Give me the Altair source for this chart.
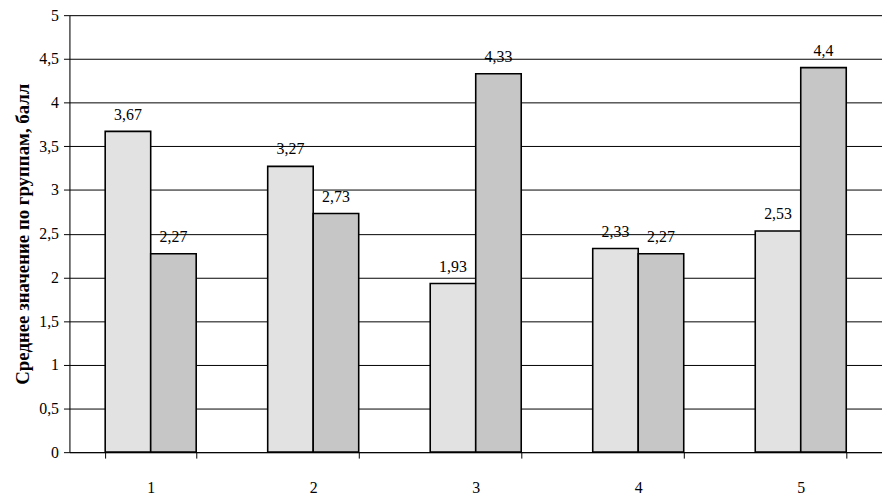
import altair as alt
import pandas as pd

groups = ["1", "2", "3", "4", "5"]
series_a = [3.67, 3.27, 1.93, 2.33, 2.53]
series_b = [2.27, 2.73, 4.33, 2.27, 4.4]
series_names = ["A", "B"]
y_ticks = [0, 0.5, 1, 1.5, 2, 2.5, 3, 3.5, 4, 4.5, 5]

rows = []
for g, a, b in zip(groups, series_a, series_b):
    rows.append({"group": g, "series": series_names[0], "value": a})
    rows.append({"group": g, "series": series_names[1], "value": b})
df = pd.DataFrame(rows)

FONT = "Liberation Serif"

base = alt.Chart(df).encode(
    x=alt.X("group:N", sort=groups,
            scale=alt.Scale(paddingInner=0.44, paddingOuter=0.22),
            axis=alt.Axis(title=None, labelAngle=0, tickBand="extent", tickSize=6,
                          labelPadding=22, labelFontSize=16, labelFont=FONT,
                          labelColor="black", domainColor="black", tickColor="black",
                          labelBaseline="top",
                          domainWidth=1, tickWidth=1, grid=False)),
    xOffset=alt.XOffset("series:N", sort=series_names, scale=alt.Scale(paddingInner=0, paddingOuter=0)),
    y=alt.Y("value:Q", scale=alt.Scale(domain=[0, 5], nice=False),
            axis=alt.Axis(title="Среднее значение по группам, балл", values=y_ticks,
                          labelExpr="replace(format(datum.value, '~g'), '.', ',')",
                          labelFontSize=16, labelFont=FONT, labelColor="black",
                          titleFont=FONT, titleFontSize=19, titleFontWeight="bold",
                          titleColor="black", titlePadding=6,
                          tickSize=6, tickColor="black", domainColor="black",
                          gridColor="black", gridWidth=1, gridOpacity=1,
                          labelPadding=5)),
)

bars = base.mark_bar(stroke="black", strokeWidth=1.6).encode(
    color=alt.Color("series:N", sort=series_names,
                    scale=alt.Scale(domain=series_names, range=["#e2e2e2", "#c6c6c6"]),
                    legend=None)
)

labels = base.transform_calculate(
    lbl="replace(format(datum.value, '~g'), '.', ',')"
).mark_text(baseline="bottom", dy=-9, fontSize=16, font=FONT, color="black").encode(
    text="lbl:N"
)

chart = alt.layer(bars, labels).properties(
    width=820, height=441,
    autosize=alt.AutoSizeParams(type="none"),
    padding={"left": 62, "top": 5, "right": 0, "bottom": 41}
).configure_view(stroke=None).configure(background="white")

chart.save("out.html", embed_options={"renderer": "svg", "actions": False})
